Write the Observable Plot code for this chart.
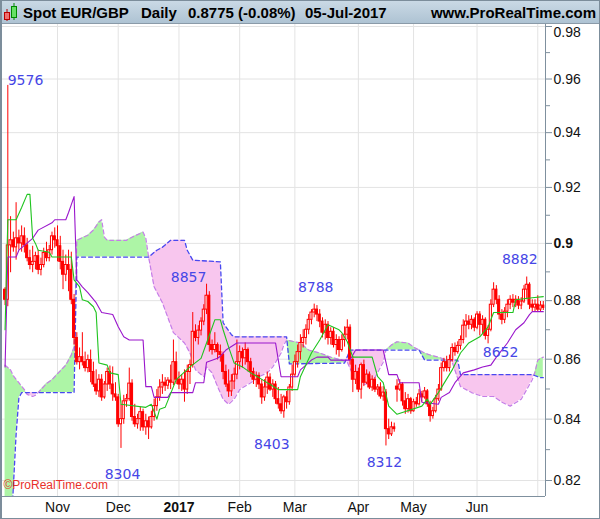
<!DOCTYPE html>
<html><head><meta charset="utf-8">
<script src="https://cdn.jsdelivr.net/npm/d3@7"></script>
<script src="https://cdn.jsdelivr.net/npm/@observablehq/plot@0.6"></script>
<style>
html,body{margin:0;padding:0;background:#fff;}
#wrap{position:relative;width:600px;height:519px;overflow:hidden;font-family:"Liberation Sans",Arial,sans-serif;}
#hdr{position:absolute;left:0;top:0;width:600px;height:23px;background:linear-gradient(#cbdae6,#aec3d3);border-bottom:1px solid #8a9aa8;font-weight:bold;font-size:15px;color:#000;}
#hdr span{position:absolute;top:4px;line-height:17px;white-space:nowrap;}
#chart{position:absolute;left:0;top:24px;}
#border{position:absolute;left:0;top:0;width:600px;height:519px;box-sizing:border-box;border:1px solid #7c8d9b;border-left:2px solid #7c8d9b;pointer-events:none;}
</style></head><body>
<div id="wrap">
  <div id="hdr">
    <svg width="20" height="23" style="position:absolute;left:1px;top:0">
      <line x1="6" y1="9" x2="6" y2="21" stroke="#a00"/>
      <rect x="3.5" y="12.5" width="5" height="7" fill="#f07070" stroke="#b00"/>
      <line x1="13" y1="3" x2="13" y2="20" stroke="#080"/>
      <rect x="10.5" y="6.5" width="5" height="11" fill="#66e066" stroke="#080"/>
    </svg>
    <span style="left:23px">Spot EUR/GBP</span>
    <span style="left:141px">Daily</span>
    <span style="left:188px">0.8775 (-0.08%)</span>
    <span style="left:305px">05-Jul-2017</span>
    <span style="right:4px">www.ProRealTime.com</span>
  </div>
  <div id="chart"></div>
  <div id="border"></div>
</div>
<script>
// ---- Daily candles (trading-day index 0..195) ----
const open = [0.8838,0.8803,0.8993,0.9011,0.8986,0.9018,0.9000,0.9025,0.8993,0.8948,
0.8924,0.8935,0.8955,0.8907,0.8924,0.8966,0.8948,0.8976,0.9025,0.9011,
0.8990,0.8935,0.8890,0.8924,0.8907,0.8803,0.8672,0.8590,0.8607,0.8590,
0.8570,0.8597,0.8557,0.8515,0.8492,0.8531,0.8472,0.8515,0.8557,0.8515,
0.8482,0.8472,0.8383,0.8400,0.8459,0.8466,0.8518,0.8407,0.8383,0.8400,
0.8423,0.8373,0.8393,0.8373,0.8407,0.8443,0.8472,0.8505,0.8521,0.8511,
0.8528,0.8521,0.8590,0.8531,0.8515,0.8531,0.8498,0.8557,0.8580,0.8693,
0.8672,0.8697,0.8728,0.8769,0.8817,0.8648,0.8631,0.8648,0.8624,0.8614,
0.8557,0.8515,0.8492,0.8525,0.8548,0.8590,0.8624,0.8603,0.8631,0.8590,
0.8557,0.8531,0.8544,0.8515,0.8472,0.8505,0.8538,0.8498,0.8515,0.8466,
0.8449,0.8426,0.8472,0.8456,0.8505,0.8548,0.8590,0.8624,0.8655,0.8672,
0.8700,0.8734,0.8759,0.8769,0.8752,0.8728,0.8690,0.8717,0.8672,0.8693,
0.8648,0.8665,0.8631,0.8665,0.8683,0.8707,0.8597,0.8531,0.8557,0.8498,
0.8580,0.8521,0.8548,0.8505,0.8531,0.8498,0.8505,0.8475,0.8488,0.8367,
0.8350,0.8373,0.8508,0.8498,0.8515,0.8459,0.8433,0.8466,0.8426,0.8456,
0.8449,0.8482,0.8472,0.8492,0.8449,0.8410,0.8426,0.8466,0.8498,0.8570,
0.8590,0.8570,0.8597,0.8638,0.8624,0.8645,0.8665,0.8714,0.8728,0.8717,
0.8734,0.8707,0.8752,0.8717,0.8734,0.8679,0.8700,0.8786,0.8838,0.8803,
0.8752,0.8734,0.8762,0.8786,0.8803,0.8793,0.8803,0.8783,0.8797,0.8838,
0.8855,0.8786,0.8776,0.8786,0.8769,0.8783];
const high = [0.8845,0.9576,0.9095,0.9040,0.9145,0.9047,0.9062,0.9055,0.9018,0.8976,
0.8990,0.8969,0.8976,0.8948,0.8983,0.9004,0.8993,0.9040,0.9055,0.9062,
0.9025,0.8976,0.8959,0.8976,0.8969,0.8821,0.8690,0.8638,0.8690,0.8624,
0.8614,0.8631,0.8590,0.8564,0.8548,0.8548,0.8525,0.8570,0.8577,0.8574,
0.8521,0.8482,0.8449,0.8479,0.8482,0.8570,0.8531,0.8449,0.8416,0.8439,
0.8433,0.8416,0.8407,0.8426,0.8466,0.8498,0.8531,0.8548,0.8538,0.8538,
0.8580,0.8665,0.8624,0.8557,0.8548,0.8564,0.8580,0.8597,0.8759,0.8717,
0.8714,0.8741,0.8786,0.8857,0.8831,0.8665,0.8690,0.8655,0.8648,0.8624,
0.8580,0.8564,0.8548,0.8570,0.8665,0.8645,0.8638,0.8655,0.8638,0.8603,
0.8570,0.8557,0.8554,0.8531,0.8531,0.8557,0.8551,0.8531,0.8525,0.8505,
0.8482,0.8479,0.8492,0.8515,0.8580,0.8614,0.8648,0.8683,0.8700,0.8717,
0.8752,0.8769,0.8788,0.8783,0.8769,0.8741,0.8734,0.8728,0.8707,0.8707,
0.8683,0.8676,0.8683,0.8710,0.8734,0.8717,0.8610,0.8580,0.8570,0.8587,
0.8597,0.8564,0.8557,0.8544,0.8538,0.8515,0.8521,0.8508,0.8498,0.8400,
0.8390,0.8387,0.8531,0.8531,0.8521,0.8488,0.8482,0.8472,0.8466,0.8472,
0.8498,0.8492,0.8505,0.8498,0.8459,0.8439,0.8479,0.8515,0.8587,0.8603,
0.8610,0.8614,0.8652,0.8655,0.8659,0.8679,0.8734,0.8752,0.8748,0.8748,
0.8741,0.8762,0.8762,0.8748,0.8741,0.8714,0.8803,0.8862,0.8852,0.8817,
0.8769,0.8776,0.8803,0.8817,0.8821,0.8817,0.8814,0.8810,0.8852,0.8882,
0.8862,0.8803,0.8803,0.8817,0.8797,0.8797];
const low = [0.8783,0.8779,0.8897,0.8969,0.8941,0.8976,0.8969,0.8966,0.8935,0.8907,
0.8897,0.8907,0.8890,0.8886,0.8914,0.8935,0.8935,0.8959,0.8983,0.8935,
0.8907,0.8838,0.8866,0.8831,0.8786,0.8648,0.8580,0.8564,0.8577,0.8557,
0.8554,0.8521,0.8505,0.8479,0.8472,0.8459,0.8466,0.8492,0.8498,0.8459,
0.8459,0.8373,0.8304,0.8383,0.8439,0.8459,0.8393,0.8373,0.8367,0.8360,
0.8360,0.8347,0.8333,0.8367,0.8393,0.8426,0.8459,0.8482,0.8492,0.8498,
0.8498,0.8511,0.8515,0.8498,0.8492,0.8456,0.8482,0.8515,0.8570,0.8659,
0.8648,0.8679,0.8714,0.8752,0.8624,0.8614,0.8621,0.8597,0.8590,0.8531,
0.8505,0.8472,0.8475,0.8498,0.8531,0.8564,0.8570,0.8580,0.8557,0.8538,
0.8515,0.8505,0.8498,0.8449,0.8459,0.8482,0.8492,0.8472,0.8449,0.8433,
0.8416,0.8403,0.8433,0.8446,0.8492,0.8538,0.8570,0.8597,0.8638,0.8648,
0.8683,0.8717,0.8741,0.8728,0.8707,0.8672,0.8665,0.8648,0.8648,0.8638,
0.8614,0.8607,0.8624,0.8641,0.8665,0.8580,0.8488,0.8515,0.8488,0.8466,
0.8508,0.8515,0.8498,0.8492,0.8488,0.8479,0.8466,0.8459,0.8312,0.8333,
0.8343,0.8357,0.8456,0.8492,0.8443,0.8416,0.8420,0.8416,0.8423,0.8439,
0.8443,0.8456,0.8466,0.8439,0.8390,0.8400,0.8420,0.8459,0.8492,0.8557,
0.8557,0.8557,0.8590,0.8610,0.8617,0.8631,0.8652,0.8672,0.8700,0.8700,
0.8693,0.8700,0.8679,0.8683,0.8665,0.8652,0.8693,0.8776,0.8786,0.8734,
0.8717,0.8721,0.8741,0.8769,0.8776,0.8776,0.8769,0.8769,0.8790,0.8803,
0.8769,0.8762,0.8762,0.8762,0.8762,0.8766];
const close = [0.8803,0.8993,0.9011,0.8986,0.9018,0.9000,0.9025,0.8993,0.8948,0.8924,
0.8935,0.8955,0.8907,0.8924,0.8966,0.8948,0.8976,0.9025,0.9011,0.8990,
0.8935,0.8890,0.8924,0.8907,0.8803,0.8672,0.8590,0.8607,0.8590,0.8570,
0.8597,0.8557,0.8515,0.8492,0.8531,0.8472,0.8515,0.8557,0.8515,0.8482,
0.8472,0.8383,0.8400,0.8459,0.8466,0.8518,0.8407,0.8383,0.8400,0.8423,
0.8373,0.8393,0.8373,0.8407,0.8443,0.8472,0.8505,0.8521,0.8511,0.8528,
0.8521,0.8590,0.8531,0.8515,0.8531,0.8498,0.8557,0.8580,0.8693,0.8672,
0.8697,0.8728,0.8769,0.8817,0.8648,0.8631,0.8648,0.8624,0.8614,0.8557,
0.8515,0.8492,0.8525,0.8548,0.8590,0.8624,0.8603,0.8631,0.8590,0.8557,
0.8531,0.8544,0.8515,0.8472,0.8505,0.8538,0.8498,0.8515,0.8466,0.8449,
0.8426,0.8472,0.8456,0.8505,0.8548,0.8590,0.8624,0.8655,0.8672,0.8700,
0.8734,0.8759,0.8769,0.8752,0.8728,0.8690,0.8717,0.8672,0.8693,0.8648,
0.8665,0.8631,0.8665,0.8683,0.8707,0.8597,0.8531,0.8557,0.8498,0.8580,
0.8521,0.8548,0.8505,0.8531,0.8498,0.8505,0.8475,0.8488,0.8367,0.8350,
0.8373,0.8367,0.8498,0.8515,0.8459,0.8433,0.8466,0.8426,0.8456,0.8449,
0.8482,0.8472,0.8492,0.8449,0.8410,0.8426,0.8466,0.8498,0.8570,0.8590,
0.8570,0.8597,0.8638,0.8624,0.8645,0.8665,0.8714,0.8728,0.8717,0.8734,
0.8707,0.8752,0.8717,0.8734,0.8679,0.8700,0.8786,0.8838,0.8803,0.8752,
0.8734,0.8762,0.8786,0.8803,0.8793,0.8803,0.8783,0.8797,0.8838,0.8855,
0.8786,0.8776,0.8786,0.8769,0.8783,0.8775];

// ---- Ichimoku lines, read as breakpoints (index, value) ----
const tenkanIdx = [0,1,4,6,8,9,10,11,12,16,17,24,25,27,28,30,32,33,34,37,38,41,42,51,53,55,56,58,61,62,67,71,73,76,78,79,81,83,86,89,92,99,106,107,111,114,117,121,122,124,126,133,135,137,139,142,151,153,154,157,162,165,168,172,175,177,184,185,191,195];
const tenkanVal = [0.8700,0.9084,0.9084,0.9128,0.9175,0.9175,0.9018,0.9000,0.8976,0.8969,0.8952,0.8952,0.8872,0.8848,0.8803,0.8797,0.8779,0.8759,0.8587,0.8580,0.8554,0.8548,0.8449,0.8439,0.8449,0.8400,0.8433,0.8439,0.8508,0.8531,0.8574,0.8603,0.8655,0.8734,0.8734,0.8700,0.8641,0.8587,0.8574,0.8554,0.8538,0.8498,0.8498,0.8541,0.8621,0.8665,0.8717,0.8700,0.8690,0.8659,0.8607,0.8607,0.8541,0.8521,0.8443,0.8416,0.8443,0.8466,0.8449,0.8488,0.8564,0.8621,0.8655,0.8676,0.8710,0.8759,0.8759,0.8803,0.8810,0.8814];
const kijunIdx = [0,1,4,5,10,12,17,18,22,23,24,25,26,28,30,33,35,39,41,43,45,50,51,53,54,59,60,68,69,72,73,77,78,80,84,98,99,100,106,107,109,111,113,117,118,125,127,137,139,142,143,150,151,157,158,161,163,166,170,173,176,178,182,185,188,190,191,195];
const kijunVal = [0.8574,0.8952,0.8952,0.8976,0.9018,0.9047,0.9073,0.9084,0.9084,0.9110,0.9138,0.9167,0.8872,0.8848,0.8828,0.8793,0.8759,0.8752,0.8710,0.8676,0.8665,0.8665,0.8508,0.8508,0.8472,0.8472,0.8488,0.8488,0.8521,0.8521,0.8590,0.8603,0.8610,0.8631,0.8655,0.8655,0.8597,0.8541,0.8541,0.8564,0.8580,0.8597,0.8607,0.8607,0.8597,0.8597,0.8631,0.8631,0.8548,0.8548,0.8521,0.8521,0.8456,0.8449,0.8472,0.8488,0.8521,0.8554,0.8564,0.8574,0.8580,0.8607,0.8655,0.8700,0.8724,0.8752,0.8762,0.8762];
const spanAIdx = [0,2,3,5,7,8,10,11,12,14,15,17,19,22,24,25,26,30,32,34,35,36,37,44,46,50,51,52,54,57,61,65,67,69,72,73,75,77,79,81,83,85,89,92,95,97,100,101,102,107,110,114,118,122,124,126,130,133,137,138,140,142,146,148,150,152,154,157,160,162,165,169,173,177,180,183,187,189,191,192,193,195];
const spanAVal = [0.8580,0.8564,0.8544,0.8521,0.8498,0.8482,0.8475,0.8479,0.8488,0.8508,0.8518,0.8531,0.8551,0.8580,0.8614,0.8641,0.9011,0.9029,0.9047,0.9076,0.9084,0.9022,0.9011,0.9011,0.9022,0.9040,0.9018,0.8952,0.8848,0.8793,0.8690,0.8655,0.8621,0.8564,0.8541,0.8574,0.8554,0.8508,0.8466,0.8449,0.8466,0.8498,0.8521,0.8541,0.8554,0.8574,0.8621,0.8648,0.8665,0.8655,0.8631,0.8621,0.8607,0.8597,0.8590,0.8548,0.8515,0.8521,0.8590,0.8631,0.8648,0.8659,0.8655,0.8641,0.8631,0.8621,0.8614,0.8607,0.8597,0.8590,0.8508,0.8488,0.8475,0.8475,0.8456,0.8443,0.8466,0.8498,0.8531,0.8557,0.8597,0.8607];
const spanBIdx = [0,2,3,4,5,6,25,26,52,55,57,60,65,66,68,78,79,80,82,83,102,103,123,125,150,152,164,165,191,194,195];
const spanBVal = [0.8000,0.8000,0.8180,0.8350,0.8470,0.8488,0.8488,0.8952,0.8952,0.8976,0.8986,0.9011,0.9011,0.8976,0.8941,0.8935,0.8724,0.8710,0.8683,0.8676,0.8676,0.8584,0.8587,0.8631,0.8631,0.8597,0.8597,0.8548,0.8548,0.8538,0.8538];

// ---- annotated swing highs / lows ----
const extIdx = [1, 42, 73, 101, 112, 138, 175, 189];
const extVal = [0.9576, 0.8304, 0.8857, 0.8403, 0.8788, 0.8312, 0.8652, 0.8882];

// ---- axes ----
const yMajor = [0.82, 0.84, 0.86, 0.88, 0.90, 0.92, 0.94, 0.96, 0.98];
const yTickLabels = ["0.82","0.84","0.86","0.88","0.9","0.92","0.94","0.96","0.98"];
const yMinor = [0.83, 0.85, 0.87, 0.89, 0.91, 0.93, 0.95, 0.97];
const monthIdx = [19, 41, 63, 85, 105, 128, 148, 171, 193];
const monthLabels = ["Nov","Dec","2017","Feb","Mar","Apr","May","Jun",""];

// ---------------- rendering ----------------
const X0 = -0.93, X1 = 195.8;
const Y0 = 0.81487, Y1 = 0.98077;
const RED = "#ff0000", AXIS = "#7f909e", GRID = "#e3e3e3";
const FONT = '"Liberation Sans", Arial, sans-serif';

const bars = d3.range(close.length);
const pts = (idx, val) => idx.map((x, k) => ({x, y: val[k]}));

// cloud geometry from the two span lines (split where they cross)
function valAt(idx, val, x) {
  if (x <= idx[0]) return val[0];
  if (x >= idx[idx.length - 1]) return val[val.length - 1];
  let k = 0; while (idx[k + 1] < x) k++;
  const t = (x - idx[k]) / (idx[k + 1] - idx[k]);
  return Math.exp(Math.log(val[k]) + t * (Math.log(val[k + 1]) - Math.log(val[k])));
}
const grid = Array.from(new Set([...spanAIdx, ...spanBIdx])).sort((a, b) => a - b);
const gp = grid.map(x => ({x, a: valAt(spanAIdx, spanAVal, x), b: valAt(spanBIdx, spanBVal, x)}));
const runs = [];
let cur = [gp[0]], sign = gp[0].a >= gp[0].b;
for (let k = 1; k < gp.length; k++) {
  const p = gp[k], q = gp[k - 1], s = p.a >= p.b;
  if (s !== sign) {
    const d0 = Math.log(q.a) - Math.log(q.b), d1 = Math.log(p.a) - Math.log(p.b);
    const t = d0 / (d0 - d1);
    const la = Math.log(q.a) + t * (Math.log(p.a) - Math.log(q.a));
    const c = {x: q.x + t * (p.x - q.x), a: Math.exp(la), b: Math.exp(la)};
    cur.push(c); runs.push({pos: sign, pts: cur}); cur = [c]; sign = s;
  }
  cur.push(p);
}
runs.push({pos: sign, pts: cur});
const cloudRows = runs.flatMap((r, k) => r.pts.map(p => ({...p, run: k, pos: r.pos})));

const labelOffsets = [[17.7,-5.2],[1.5,26.5],[-18,-7],[-12,26],[1.5,-16.5],[-1.5,16.5],[12.5,9],[-7,-18]];
const yLabelShift = v => (v === 0.98 ? 6 : 0);

const chart = Plot.plot({
  width: 600, height: 495,
  marginTop: 0, marginBottom: 23, marginLeft: 2, marginRight: 55,
  style: {fontFamily: FONT, background: "transparent", overflow: "visible"},
  x: {type: "linear", domain: [X0, X1], axis: null},
  y: {type: "log", domain: [Y0, Y1], axis: null},
  marks: [
    Plot.ruleX(monthIdx, {x: d => d, stroke: GRID}),
    Plot.ruleY(yMajor, {y: d => d, stroke: GRID}),
    Plot.areaY(cloudRows.filter(d => d.pos), {x: "x", y1: "b", y2: "a", z: "run", fill: "#adf5a6", clip: true}),
    Plot.areaY(cloudRows.filter(d => !d.pos), {x: "x", y1: "b", y2: "a", z: "run", fill: "#f8c6ee", clip: true}),
    Plot.line(pts(spanAIdx, spanAVal), {x: "x", y: "y", stroke: "#c57ee8", strokeWidth: 1.2, strokeDasharray: "4,3", clip: true}),
    Plot.line(pts(spanBIdx, spanBVal), {x: "x", y: "y", stroke: "#4848f0", strokeWidth: 1.3, strokeDasharray: "4,3", clip: true}),
    Plot.ruleX(bars, {x: i => i, y1: i => low[i], y2: i => high[i], stroke: RED, strokeWidth: 1, clip: true}),
    Plot.rect(bars.filter(i => close[i] < open[i]), {x1: i => i - 0.38, x2: i => i + 0.38, y1: i => open[i], y2: i => close[i], fill: RED, stroke: RED, clip: true}),
    Plot.rect(bars.filter(i => close[i] >= open[i]), {x1: i => i - 0.38, x2: i => i + 0.38, y1: i => open[i], y2: i => close[i], fill: "#ffffff", stroke: RED, clip: true}),
    Plot.line(pts(kijunIdx, kijunVal), {x: "x", y: "y", stroke: "#9a16cc", strokeWidth: 1.1, clip: true}),
    Plot.line(pts(tenkanIdx, tenkanVal), {x: "x", y: "y", stroke: "#1fc41f", strokeWidth: 1.1, clip: true}),
    ...extIdx.map((i, k) => Plot.text([k], {
      x: () => i, y: () => extVal[k], text: () => String(Math.round(extVal[k] * 10000)),
      dx: labelOffsets[k][0], dy: labelOffsets[k][1], fill: "#4646e6",
      fontSize: 14, fontFamily: '"DejaVu Sans", sans-serif', textAnchor: "middle"
    })),
    Plot.text(["\u00A9ProRealTime.com"], {text: d => d, frameAnchor: "bottom-left", dx: 1, dy: -8, textAnchor: "start", fill: "#e8302a", fontSize: 12}),
    Plot.ruleX([X1], {x: d => d, stroke: AXIS}),
    Plot.ruleY([Y0], {y: d => d, stroke: AXIS}),
    Plot.axisY(yMajor, {anchor: "right", tickSize: 6, tickFormat: () => "", stroke: AXIS, label: null}),
    Plot.axisY(yMinor, {anchor: "right", tickSize: 4, tickFormat: () => "", stroke: AXIS, label: null}),
    ...yMajor.map((v, k) => Plot.text([v], {
      x: () => X1, y: d => d, text: () => yTickLabels[k], dx: 8, dy: yLabelShift(v),
      textAnchor: "start", fontSize: 14, fill: "#111",
      fontWeight: yTickLabels[k] === "0.9" ? "bold" : "normal"
    })),
    ...monthIdx.map((m, k) => Plot.text([m], {
      x: d => d, text: () => monthLabels[k], frameAnchor: "bottom", dy: 15,
      fontSize: 14, fill: "#111", fontWeight: monthLabels[k] === "2017" ? "bold" : "normal"
    }))
  ]
});
document.getElementById("chart").appendChild(chart);
</script>
</body></html>
